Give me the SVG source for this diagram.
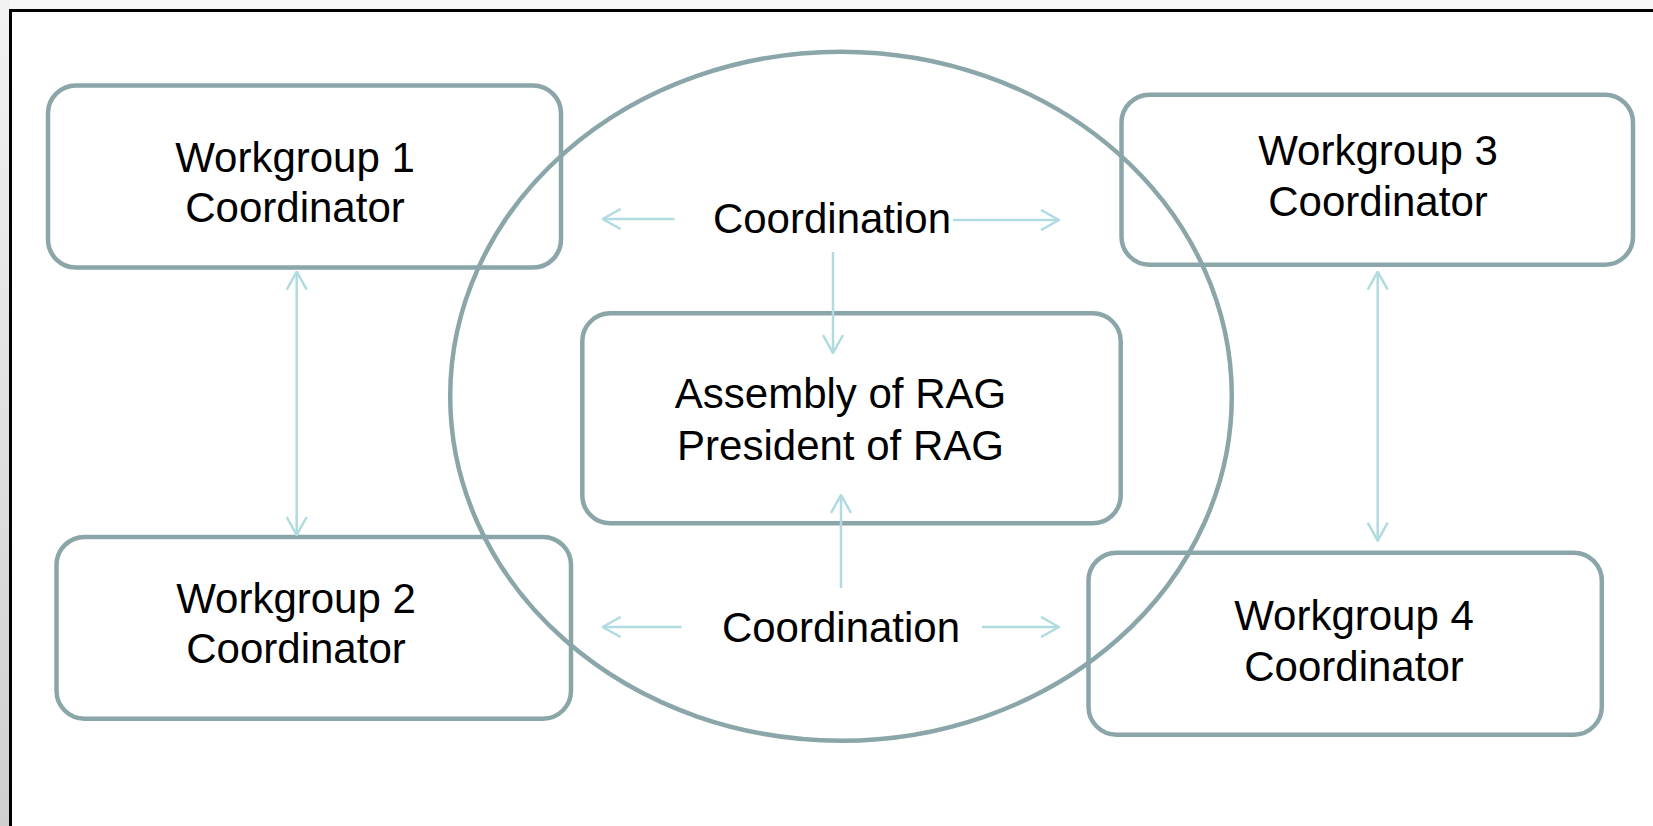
<svg xmlns="http://www.w3.org/2000/svg" width="1653" height="826" viewBox="0 0 1653 826">
<defs>
<linearGradient id="side" x1="0" y1="0" x2="0" y2="1">
<stop offset="0" stop-color="#f2f2f2"/>
<stop offset="1" stop-color="#cfcfcf"/>
</linearGradient>
<marker id="ah" viewBox="0 0 20 22" refX="19" refY="11" markerWidth="20" markerHeight="22" markerUnits="userSpaceOnUse" orient="auto-start-reverse">
<path d="M1,1 L19,11 L1,21" fill="none" stroke="#b0dbe0" stroke-width="2.5"/>
</marker>
<style>
.box{fill:none;stroke:#8aa6a9;stroke-width:4.5}
.lbl{font-family:"Liberation Sans",Arial,sans-serif;font-size:42px;fill:#000;text-anchor:middle}
.con{stroke:#b0dbe0;stroke-width:2.5;fill:none}
</style>
</defs>
<rect x="0" y="0" width="1653" height="826" fill="#f7f7f7"/>
<rect x="0" y="0" width="10" height="826" fill="url(#side)"/>
<rect x="10" y="10" width="1643" height="816" fill="#fff"/>
<line x1="9" y1="10.5" x2="1653" y2="10.5" stroke="#000" stroke-width="3"/>
<line x1="10.5" y1="9" x2="10.5" y2="826" stroke="#000" stroke-width="3"/>

<g id="circle">
<ellipse cx="841" cy="396.2" rx="390.8" ry="344.5" class="box"/>
</g>

<g id="wg1">
<rect x="48" y="85.5" width="513" height="182" rx="28" class="box"/>
<text class="lbl" x="295" y="171.7">Workgroup 1</text>
<text class="lbl" x="295" y="221.7">Coordinator</text>
</g>
<g id="wg3">
<rect x="1121.5" y="94.7" width="511.5" height="170" rx="28" class="box"/>
<text class="lbl" x="1378" y="165">Workgroup 3</text>
<text class="lbl" x="1378" y="216">Coordinator</text>
</g>
<g id="wg2">
<rect x="56.5" y="537" width="514.5" height="181.7" rx="28" class="box"/>
<text class="lbl" x="296" y="612.7">Workgroup 2</text>
<text class="lbl" x="296" y="662.7">Coordinator</text>
</g>
<g id="wg4">
<rect x="1088.5" y="552.7" width="513.3" height="182" rx="28" class="box"/>
<text class="lbl" x="1354" y="630">Workgroup 4</text>
<text class="lbl" x="1354" y="681">Coordinator</text>
</g>
<g id="assembly">
<rect x="582.3" y="313.3" width="538.4" height="210" rx="28" class="box"/>
<text class="lbl" x="840.5" y="408.3">Assembly of RAG</text>
<text class="lbl" x="840.5" y="460">President of RAG</text>
</g>
<g id="coord-top">
<text class="lbl" x="832" y="233">Coordination</text>
</g>
<g id="coord-bottom">
<text class="lbl" x="841" y="641.7">Coordination</text>
</g>

<g id="connectors">
<line class="con" x1="674.5" y1="219" x2="602.6" y2="219" marker-end="url(#ah)"/>
<line class="con" x1="953" y1="220" x2="1059" y2="220" marker-end="url(#ah)"/>
<line class="con" x1="833" y1="252" x2="833" y2="353" marker-end="url(#ah)"/>
<line class="con" x1="681.5" y1="627" x2="602.6" y2="627" marker-end="url(#ah)"/>
<line class="con" x1="982" y1="627" x2="1059" y2="627" marker-end="url(#ah)"/>
<line class="con" x1="841" y1="588" x2="841" y2="495" marker-end="url(#ah)"/>
<line class="con" x1="296.7" y1="271.7" x2="296.7" y2="535" marker-start="url(#ah)" marker-end="url(#ah)"/>
<line class="con" x1="1377.7" y1="271.7" x2="1377.7" y2="540.7" marker-start="url(#ah)" marker-end="url(#ah)"/>
</g>
</svg>
